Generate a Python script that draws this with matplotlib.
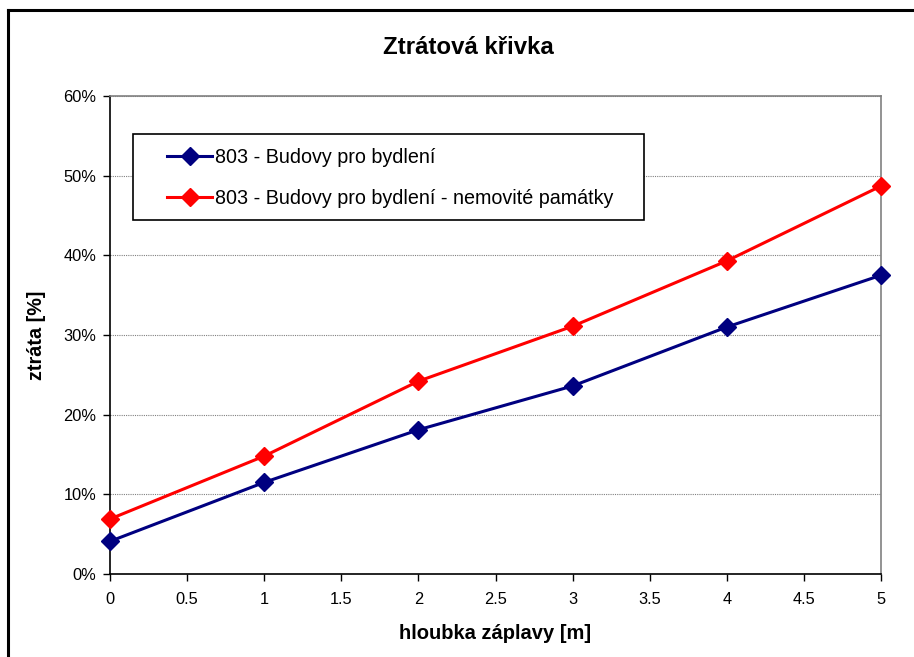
import matplotlib

matplotlib.use("Agg")
import matplotlib.pyplot as plt
from matplotlib.lines import Line2D
from matplotlib.patches import Rectangle
from matplotlib.ticker import FuncFormatter, MultipleLocator

plt.rcParams["font.family"] = ["Liberation Sans", "DejaVu Sans"]

# flood depth [m] and loss [%]
depth = [0, 1, 2, 3, 4, 5]
loss_housing = [4.1, 11.5, 18.1, 23.6, 31.0, 37.5]
loss_monuments = [6.9, 14.8, 24.2, 31.1, 39.3, 48.7]
labels = ["803 - Budovy pro bydlení",
          "803 - Budovy pro bydlení - nemovité památky"]
C_BLUE, C_RED = "#000080", "#FF0000"

W, H = 914, 657
X0, X1, Y0, Y1 = 110, 881, 96, 574          # plot area in pixels (top y0, bottom y1)
fig = plt.figure(figsize=(W / 100, H / 100), dpi=100)
ax = fig.add_axes([X0 / W, 1 - Y1 / H, (X1 - X0) / W, (Y1 - Y0) / H])


def px(x, y):
    """pixel position -> axes fraction"""
    return (x - X0) / (X1 - X0), (Y1 - y) / (Y1 - Y0)


for y, c, lab in ((loss_housing, C_BLUE, labels[0]), (loss_monuments, C_RED, labels[1])):
    ax.plot(depth, y, color=c, lw=2.2, marker="D", ms=9.5, mec=c, mfc=c, label=lab,
            clip_on=False, zorder=3)

ax.set_xlim(0, 5); ax.set_ylim(0, 60)
ax.xaxis.set_major_locator(MultipleLocator(0.5))
ax.yaxis.set_major_locator(MultipleLocator(10))
ax.xaxis.set_major_formatter(FuncFormatter(lambda v, _: f"{v:g}"))
ax.yaxis.set_major_formatter(FuncFormatter(lambda v, _: f"{v:.0f}%"))
ax.grid(axis="y", color="#808080", lw=0.8, ls=(0, (1, 1)))
ax.set_axisbelow(True)
ax.tick_params(direction="out", length=5, width=1, labelsize=11.8, color="black", pad=5)
ax.tick_params(axis="x", pad=8)
for s in ("top", "right"):
    ax.spines[s].set_color("#808080"); ax.spines[s].set_linewidth(1.2)
for s in ("left", "bottom"):
    ax.spines[s].set_color("black"); ax.spines[s].set_linewidth(1.2)

ax.set_xlabel("hloubka záplavy [m]", fontsize=14.5, fontweight="bold", labelpad=12)
ax.set_ylabel("ztráta [%]", fontsize=14.3, fontweight="bold", labelpad=12)
fig.text(468 / W, 1 - 47 / H, "Ztrátová křivka", ha="center", va="center",
         fontsize=17.3, fontweight="bold")

# legend entries without frame, box drawn separately (Excel-style padding)
leg = ax.legend(loc="center left", bbox_to_anchor=px(167, 178), frameon=False,
                fontsize=14.2, borderpad=0, labelspacing=1.15, handlelength=2.3,
                handletextpad=0.15, borderaxespad=0)
lx0, ly0 = px(133, 220)
lx1, ly1 = px(644, 134)
ax.add_patch(Rectangle((lx0, ly0), lx1 - lx0, ly1 - ly0, transform=ax.transAxes,
                       facecolor="white", edgecolor="black", lw=1.2, zorder=4))
leg.set_zorder(5)

# outer chart frame (left and top edges visible, rest runs off the image)
fig.add_artist(Line2D([8 / W, 8 / W], [0, 1 - 10 / H], color="black", lw=2.2))
fig.add_artist(Line2D([8 / W, 1], [1 - 10 / H, 1 - 10 / H], color="black", lw=2.2))

fig.savefig("out.png", dpi=100)
